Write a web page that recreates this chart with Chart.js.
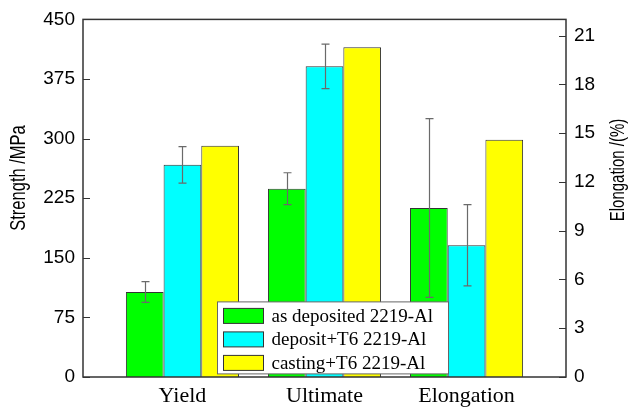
<!DOCTYPE html>
<html>
<head>
<meta charset="utf-8">
<script src="https://cdn.jsdelivr.net/npm/chart.js@4"></script>
<style>
html, body { margin: 0; background: #fff; }
#wrap { width: 628px; height: 407px; }
</style>
</head>
<body>
<div id="wrap"><canvas id="chart"></canvas></div>
<script>
const categories = ['Yield', 'Ultimate', 'Elongation'];
const seriesNames = ['as deposited 2219-Al', 'deposit+T6 2219-Al', 'casting+T6 2219-Al'];
const seriesColors = ['#00ff00', '#00ffff', '#ffff00'];

// strength, MPa (Yield, Ultimate)
const asDepositedStrength = [107, 237];
const depositT6Strength = [267, 391];
const castingT6Strength = [291, 415];
const asDepositedStrengthErr = [13, 20];
const depositT6StrengthErr = [23, 28];
const castingT6StrengthErr = [0, 0];

// elongation, % (one value per series)
const elongation = [10.4, 8.1, 14.6];
const elongationErr = [5.5, 2.5, 0];

const strengthTicks = [0, 75, 150, 225, 300, 375, 450];
const elongationTicks = [0, 3, 6, 9, 12, 15, 18, 21];

const strengthSeries = [asDepositedStrength, depositT6Strength, castingT6Strength];
const strengthErrors = [asDepositedStrengthErr, depositT6StrengthErr, castingT6StrengthErr];

const FRAME = '#333';

function strengthPoints(values) {
    return categories.map((c, i) => ({ x: i + 1, y: i < values.length ? values[i] : null }));
}
function elongationPoint(value) {
    return categories.map((c, i) => ({ x: i + 1, y: i === 2 ? value : null }));
}

const datasets = [];
seriesNames.forEach((name, s) => {
    datasets.push({
        label: name, yAxisID: 'y', data: strengthPoints(strengthSeries[s]),
        errors: strengthErrors[s].concat([0]),
        backgroundColor: seriesColors[s], borderColor: FRAME, borderWidth: 1
    });
});
seriesNames.forEach((name, s) => {
    datasets.push({
        label: name, yAxisID: 'y1', data: elongationPoint(elongation[s]),
        errors: [0, 0, elongationErr[s]],
        backgroundColor: seriesColors[s], borderColor: FRAME, borderWidth: 1
    });
});

const errorBars = {
    id: 'errorBars',
    afterDatasetsDraw(chart) {
        const ctx = chart.ctx;
        ctx.save();
        ctx.strokeStyle = '#6a6a6a';
        ctx.lineWidth = 1.2;
        chart.data.datasets.forEach((ds, di) => {
            const meta = chart.getDatasetMeta(di);
            const scale = chart.scales[ds.yAxisID];
            meta.data.forEach((bar, i) => {
                const v = ds.data[i].y;
                const e = ds.errors[i];
                if (v === null || !e) return;
                const x = Math.round(bar.x) + 0.5;
                const top = scale.getPixelForValue(v + e);
                const bottom = scale.getPixelForValue(v - e);
                ctx.beginPath();
                ctx.moveTo(x, top); ctx.lineTo(x, bottom);
                ctx.moveTo(x - 4, top); ctx.lineTo(x + 4, top);
                ctx.moveTo(x - 4, bottom); ctx.lineTo(x + 4, bottom);
                ctx.stroke();
            });
        });
        ctx.restore();
    }
};

const frameAndLegend = {
    id: 'frameAndLegend',
    afterDraw(chart) {
        const ctx = chart.ctx;
        const a = chart.chartArea;
        ctx.save();
        // frame
        ctx.strokeStyle = FRAME;
        ctx.lineWidth = 1.5;
        ctx.strokeRect(a.left, a.top, a.right - a.left, a.bottom - a.top);
        // inward ticks
        ctx.lineWidth = 1;
        ctx.beginPath();
        strengthTicks.forEach(v => {
            const y = Math.round(chart.scales.y.getPixelForValue(v)) + 0.5;
            ctx.moveTo(a.left, y); ctx.lineTo(a.left + 7, y);
        });
        elongationTicks.forEach(v => {
            const y = Math.round(chart.scales.y1.getPixelForValue(v)) + 0.5;
            ctx.moveTo(a.right, y); ctx.lineTo(a.right - 7, y);
        });
        ctx.stroke();

        // axis titles (glyphs taller than wide, as in the source figure)
        ctx.fillStyle = '#000';
        ctx.textAlign = 'center';
        ctx.textBaseline = 'middle';
        ctx.font = '16.5px "Liberation Sans", Arial, sans-serif';
        ctx.save();
        ctx.translate(19, 178);
        ctx.rotate(-Math.PI / 2);
        ctx.scale(1, 1.3);
        ctx.fillText('Strength /MPa', 0, 0);
        ctx.restore();
        ctx.font = '15px "Liberation Sans", Arial, sans-serif';
        ctx.save();
        ctx.translate(618, 170);
        ctx.rotate(-Math.PI / 2);
        ctx.scale(1, 1.35);
        ctx.fillText('Elongation /(%)', 0, 0);
        ctx.restore();

        // legend
        const lx = a.left + 134.5, ly = a.top + 282.5, lw = 231, lh = 72;
        ctx.fillStyle = '#fff';
        ctx.fillRect(lx, ly, lw, lh);
        ctx.strokeStyle = '#666';
        ctx.strokeRect(lx, ly, lw, lh);
        ctx.font = '19px "Liberation Serif", "Times New Roman", serif';
        ctx.textAlign = 'left';
        seriesNames.forEach((name, s) => {
            const cy = ly + 14 + s * 23.5;
            ctx.fillStyle = seriesColors[s];
            ctx.fillRect(lx + 6, cy - 7.5, 40, 15);
            ctx.strokeStyle = FRAME;
            ctx.strokeRect(lx + 6, cy - 7.5, 40, 15);
            ctx.fillStyle = '#000';
            ctx.fillText(name, lx + 54, cy + 1);
        });
        ctx.restore();
    }
};

new Chart(document.getElementById('chart'), {
    type: 'bar',
    data: { datasets },
    options: {
        responsive: true,
        maintainAspectRatio: false,
        animation: false,
        layout: { padding: { top: 19, left: 0, right: 0, bottom: 0 } },
        datasets: { bar: { skipNull: true, categoryPercentage: 0.796, barPercentage: 1 } },
        plugins: { legend: { display: false }, tooltip: { enabled: false } },
        scales: {
            x: {
                type: 'linear', offset: false, min: 0.3, max: 3.7,
                grid: { display: false, drawTicks: false }, border: { display: false },
                afterBuildTicks: scale => { scale.ticks = categories.map((c, i) => ({ value: i + 1 })); },
                afterFit: scale => { scale.height = 30; },
                ticks: {
                    padding: 6, color: '#000', maxRotation: 0, autoSkip: false,
                    font: { family: '"Liberation Serif", "Times New Roman", serif', size: 22 },
                    callback: value => categories[value - 1]
                }
            },
            y: {
                position: 'left', min: 0, max: 450,
                grid: { display: false, drawTicks: false }, border: { display: false },
                afterBuildTicks: scale => { scale.ticks = strengthTicks.map(v => ({ value: v })); },
                afterFit: scale => { scale.width = 83; },
                ticks: { padding: 8, color: '#000', font: { family: '"Liberation Sans", Arial, sans-serif', size: 19 } }
            },
            y1: {
                position: 'right', min: 0, max: 22,
                grid: { display: false, drawTicks: false }, border: { display: false },
                afterBuildTicks: scale => { scale.ticks = elongationTicks.map(v => ({ value: v })); },
                afterFit: scale => { scale.width = 62; },
                ticks: { padding: 8, color: '#000', font: { family: '"Liberation Sans", Arial, sans-serif', size: 19 } }
            }
        }
    },
    plugins: [errorBars, frameAndLegend]
});
</script>
</body>
</html>
